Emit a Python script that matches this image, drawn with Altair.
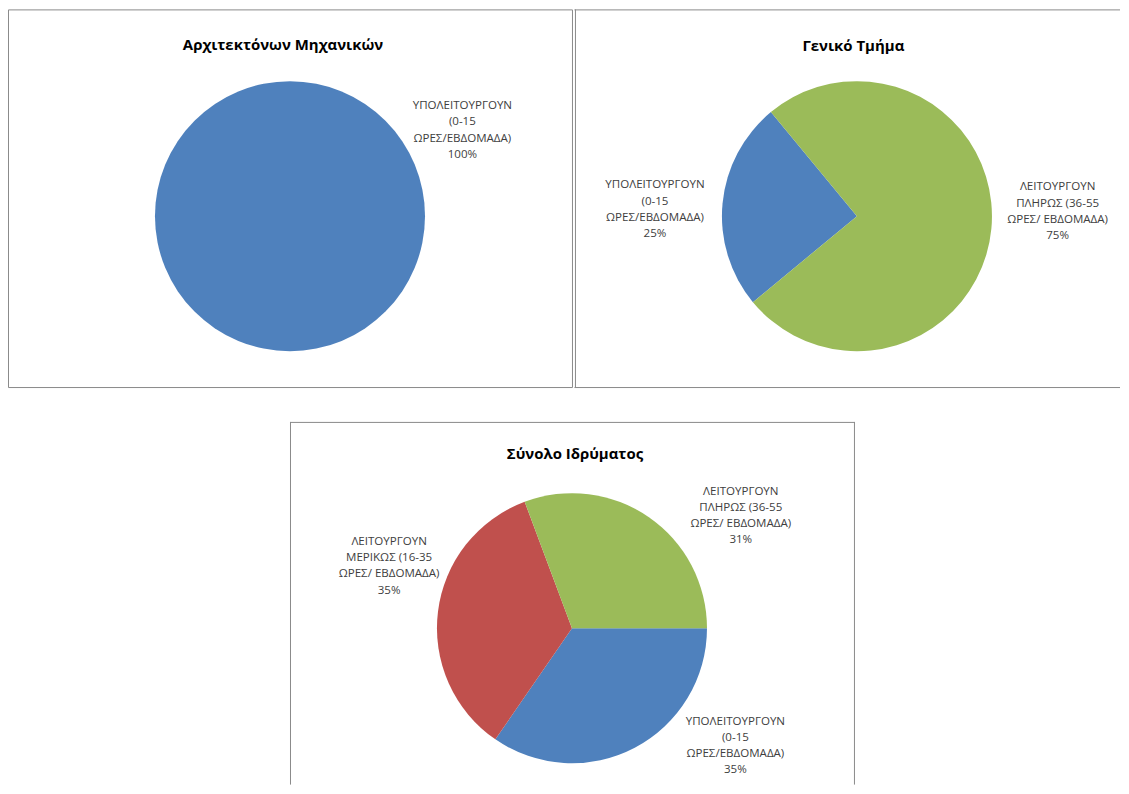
import math
import altair as alt
import pandas as pd

# ---------------- data ----------------
CATEGORIES = [
    "ΥΠΟΛΕΙΤΟΥΡΓΟΥΝ (0-15 ΩΡΕΣ/ΕΒΔΟΜΑΔΑ)",
    "ΛΕΙΤΟΥΡΓΟΥΝ ΜΕΡΙΚΩΣ (16-35 ΩΡΕΣ/ ΕΒΔΟΜΑΔΑ)",
    "ΛΕΙΤΟΥΡΓΟΥΝ ΠΛΗΡΩΣ (36-55 ΩΡΕΣ/ ΕΒΔΟΜΑΔΑ)",
]
CATEGORY_LINES = [
    ["ΥΠΟΛΕΙΤΟΥΡΓΟΥΝ", "(0-15", "ΩΡΕΣ/ΕΒΔΟΜΑΔΑ)"],
    ["ΛΕΙΤΟΥΡΓΟΥΝ", "ΜΕΡΙΚΩΣ (16-35", "ΩΡΕΣ/ ΕΒΔΟΜΑΔΑ)"],
    ["ΛΕΙΤΟΥΡΓΟΥΝ", "ΠΛΗΡΩΣ (36-55", "ΩΡΕΣ/ ΕΒΔΟΜΑΔΑ)"],
]
COLORS = ["#4F81BD", "#C0504D", "#9BBB59"]

TITLES = ["Αρχιτεκτόνων Μηχανικών", "Γενικό Τμήμα", "Σύνολο Ιδρύματος"]

arch_cats = [0]
arch_values = [100]

gen_cats = [0, 2]
gen_values = [25, 75]

total_cats = [0, 1, 2]
total_values = [34.6, 34.7, 30.7]

# ---------------- style ----------------
BORDER = "#8a8a8a"
LABEL_FONT = "Open Sans"
LABEL_SIZE = 11.6
LABEL_COLOR = "#404040"
TITLE_FONT = "Open Sans"
TITLE_SIZE = 15
RADIUS = 135.5
LINE_H = 16.2
TRANSPARENT = alt.ViewBackground(stroke="transparent")


def make_df(cats, values):
    total = sum(values)
    rows = []
    for i, (c, v) in enumerate(zip(cats, values)):
        pct = f"{round(100 * v / total):.0f}%"
        rows.append({
            "idx": i,
            "cat": CATEGORIES[c],
            "value": v,
            "label": "\n".join(CATEGORY_LINES[c] + [pct]),
        })
    return pd.DataFrame(rows)


def panel(title, cats, values, w, h, center, start_deg, title_pos, label_pos, extra=None, view=None):
    df = make_df(cats, values)
    start = math.radians(start_deg)
    base = alt.Chart(df)
    arcs = base.mark_arc(radius=RADIUS).encode(
        theta=alt.Theta("value:Q", stack=True,
                        scale=alt.Scale(range=[start, start + 2 * math.pi])),
        color=alt.Color("cat:N", scale=alt.Scale(domain=CATEGORIES, range=COLORS), legend=None),
        order=alt.Order("idx:Q"),
        x=alt.value(center[0]),
        y=alt.value(center[1]),
    )
    layers = [arcs]
    for c, (lx, ly) in label_pos.items():
        layers.append(
            base.transform_filter(alt.datum.cat == CATEGORIES[c]).mark_text(
                font=LABEL_FONT, fontSize=LABEL_SIZE, color=LABEL_COLOR,
                align="center", baseline="middle", lineBreak="\n", lineHeight=LINE_H,
                dy=-1.5 * LINE_H,
            ).encode(text="label:N", x=alt.value(lx), y=alt.value(ly))
        )
    layers.append(
        alt.Chart(pd.DataFrame({"t": [title]})).mark_text(
            font=TITLE_FONT, fontSize=TITLE_SIZE, fontWeight="bold", color="#000000",
            align="center", baseline="middle",
        ).encode(text="t:N", x=alt.value(title_pos[0]), y=alt.value(title_pos[1]))
    )
    if extra:
        layers.extend(extra)
    ch = alt.layer(*layers).properties(width=w, height=h)
    if view is not None:
        ch = ch.properties(view=view)
    return ch


one = pd.DataFrame({"k": [0]})


def rule(x, y, x2=None, y2=None):
    enc = {"x": alt.value(x), "y": alt.value(y)}
    if x2 is not None:
        enc["x2"] = alt.value(x2)
    if y2 is not None:
        enc["y2"] = alt.value(y2)
    return alt.Chart(one).mark_rule(color=BORDER, strokeWidth=1).encode(**enc)


TOP_H = 379

top_left = panel(TITLES[0], arch_cats, arch_values, 566, TOP_H, (283, 207.5), 0,
                 (276, 35.5), {0: (456, 121.5)})

# right panel: its right border lies outside the picture
tr_w = 548
top_right = panel(TITLES[1], gen_cats, gen_values, tr_w, TOP_H, (284, 207.5), 230.4,
                  (280.4, 36.7), {0: (81.3, 201), 2: (485.4, 203)},
                  extra=[rule(0.5, 0.5, x2=tr_w), rule(0.5, TOP_H + 0.5, x2=tr_w),
                         rule(1.5, 0, y2=TOP_H)],
                  view=TRANSPARENT)

bh = 364
bottom = panel(TITLES[2], total_cats, total_values, 1110, bh, (566, 207), 90,
               (569, 32.3), {0: (730, 325), 1: (382.5, 145), 2: (735.4, 94.6)},
               extra=[rule(283.5, 0, y2=bh), rule(849.5, 0, y2=bh), rule(283.5, 0.5, x2=849.5)],
               view=TRANSPARENT)

top = alt.hconcat(top_left, top_right, spacing=0).resolve_scale(theta="independent")
chart = alt.vconcat(top, bottom, spacing=32).resolve_scale(theta="independent").properties(
    padding={"left": -1, "top": -1, "right": 0, "bottom": 0}
).configure_view(stroke=BORDER)

chart.save("out.html", embed_options={"renderer": "svg", "actions": False})
